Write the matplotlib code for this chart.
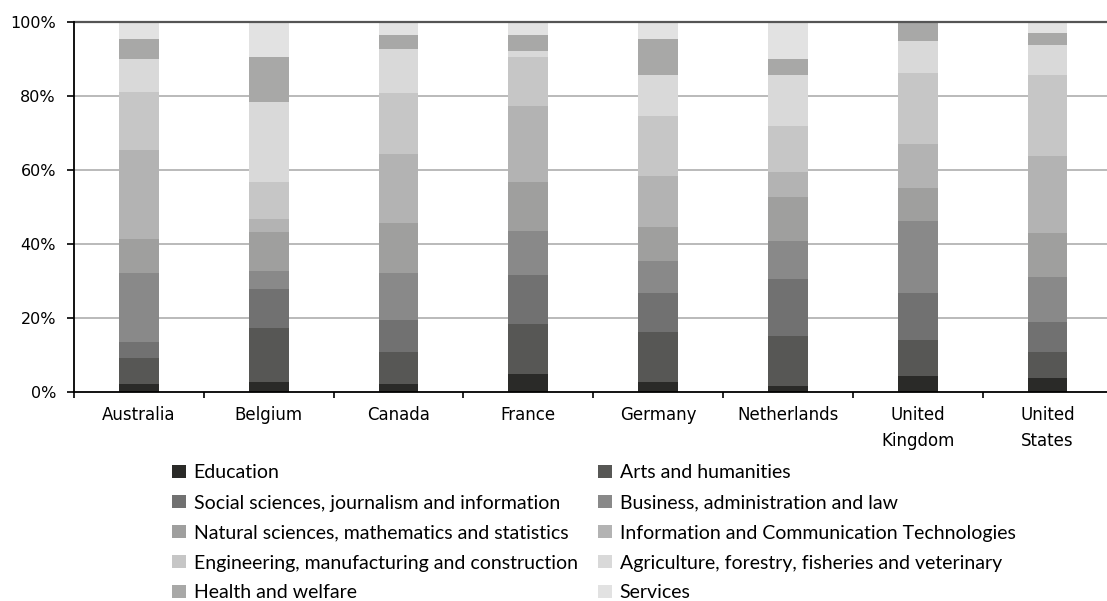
import matplotlib
matplotlib.use("Agg")
import matplotlib.pyplot as plt
import numpy as np
from matplotlib.patches import Patch

countries = ["Australia", "Belgium", "Canada", "France", "Germany",
             "Netherlands", "United\nKingdom", "United\nStates"]
fields = ["Education", "Arts and humanities",
          "Social sciences, journalism and information",
          "Business, administration and law",
          "Natural sciences, mathematics and statistics",
          "Information and Communication Technologies",
          "Engineering, manufacturing and construction",
          "Agriculture, forestry, fisheries and veterinary",
          "Health and welfare", "Services"]
colors = ["#2a2a28", "#575755", "#717171", "#898989", "#9f9f9e",
          "#b3b3b3", "#c6c6c6", "#d9d9d9", "#a8a8a7", "#e2e2e2"]

# shares (%) per field, one value per country (order as in `countries`)
education   = [2.1, 2.7, 2.1, 4.8, 2.6, 1.5, 4.2, 3.7]
arts        = [7.1, 14.6, 8.6, 13.5, 13.6, 13.6, 9.8, 7.0]
social      = [4.2, 10.6, 8.7, 13.3, 10.5, 15.4, 12.7, 8.2]
business    = [18.7, 4.9, 12.7, 11.9, 8.7, 10.3, 19.5, 12.1]
natural     = [9.2, 10.3, 13.6, 13.3, 9.2, 11.9, 8.9, 12.0]
ict         = [24.1, 3.7, 18.7, 20.5, 13.8, 6.8, 12.0, 20.8]
engineering = [15.7, 10.0, 16.5, 13.3, 16.2, 12.4, 19.2, 21.9]
agriculture = [9.0, 21.7, 11.9, 1.6, 11.1, 13.8, 8.6, 8.2]
health      = [5.4, 12.2, 3.8, 4.4, 9.8, 4.4, 5.1, 3.2]
services    = [4.5, 9.3, 3.4, 3.4, 4.5, 9.9, 0.0, 2.9]
series = [education, arts, social, business, natural, ict,
          engineering, agriculture, health, services]

W, H = 1107, 601
DPI = 100
fig = plt.figure(figsize=(W / DPI, H / DPI), dpi=DPI)
ax = fig.add_axes([74 / W, 1 - 391.7 / H, 8 * 129.8 / W, (391.7 - 22.3) / H])

FONT = ["Lato", "DejaVu Sans"]
plt.rcParams["font.family"] = FONT
x = np.arange(len(countries))
bottom = np.zeros(len(countries))
handles = []
for vals, col, name in zip(series, colors, fields):
    v = np.array(vals)
    ax.bar(x, v, width=0.308, bottom=bottom, color=col, zorder=3,
           linewidth=0)
    bottom += v
    handles.append(Patch(facecolor=col, edgecolor="none", label=name))

ax.set_xlim(-0.5, len(countries) - 0.5)
ax.set_ylim(0, 100)
ax.set_yticks([0, 20, 40, 60, 80, 100])
ax.set_yticklabels([f"{t}%" for t in [0, 20, 40, 60, 80, 100]])
for yv in [20, 40, 60, 80]:
    ax.axhline(yv, color="#b4b4b4", lw=1.3, zorder=1)
ax.axhline(100, color="#555555", lw=1.6, zorder=4, clip_on=False)

ax.set_xticks(x)
ax.set_xticklabels(countries)
ax.set_xticks(np.arange(-0.5, len(countries)), minor=True)
ax.tick_params(axis="x", which="major", length=0, pad=11, labelsize=14)
ax.tick_params(axis="x", which="minor", length=4.5, width=1.2, color="black")
ax.tick_params(axis="y", length=5, width=1.2, pad=8, color="black",
               labelsize=13.3)

for s in ["top", "right"]:
    ax.spines[s].set_visible(False)
for s in ["left", "bottom"]:
    ax.spines[s].set_linewidth(1.3)
    ax.spines[s].set_color("black")
    ax.spines[s].set_zorder(5)

fig.canvas.draw()
R = fig.canvas.get_renderer()

# --- fit tick label sizes to the reference text widths ---
xl = ax.get_xticklabels()
xfs = 14 * 74.0 / xl[0].get_window_extent(R).width
yl = ax.get_yticklabels()
yfs = 13.3 * 46.0 / yl[-1].get_window_extent(R).width
ax.tick_params(axis="y", labelsize=yfs)
ax.tick_params(axis="x", which="major", labelsize=xfs)
ls = 1.2
for t in ax.get_xticklabels():
    t.set_linespacing(ls)
for _ in range(3):
    fig.canvas.draw()
    xl = ax.get_xticklabels()
    h1 = xl[0].get_window_extent(R).height
    h2 = xl[6].get_window_extent(R).height
    ls = ls * 25.5 / (h2 - h1)
    for t in ax.get_xticklabels():
        t.set_linespacing(ls)
fig.canvas.draw()
top = ax.get_xticklabels()[0].get_window_extent(R).y1
pad_px = top - (H - 406.5)
ax.tick_params(axis="x", which="major", pad=11 + pad_px * 72 / DPI)

# --- legend: two columns (row-wise order as in the reference) ---
col1 = handles[0::2]
col2 = handles[1::2]
legs = []


def make_legends(fs, lsp, ytop):
    for lg in legs:
        lg.remove()
    legs.clear()
    fs_px = fs * DPI / 72
    for hs, xpos in [(col1, 172), (col2, 598)]:
        lg = fig.legend(handles=hs, loc="upper left",
                        bbox_to_anchor=(xpos / W, 1 - ytop / H),
                        frameon=False, ncol=1, borderpad=0, borderaxespad=0,
                        handlelength=13.5 / fs_px, handleheight=12 / fs_px,
                        handletextpad=8 / fs_px, labelspacing=lsp,
                        prop={"family": FONT, "size": fs})
        legs.append(lg)


fs, lsp, ytop = 14.0, 0.5, 462
make_legends(fs, lsp, ytop)
fig.canvas.draw()
w_ict = legs[1].get_texts()[2].get_window_extent(R).width
w_soc = legs[0].get_texts()[1].get_window_extent(R).width
fs = fs * 0.5 * (393.0 / w_ict + 372.0 / w_soc)
FIRST_ROW, PITCH = 473.0, 30.0
for _ in range(3):
    make_legends(fs, lsp, ytop)
    fig.canvas.draw()
    bbs = [t.get_window_extent(R) for t in legs[0].get_texts()]
    cy = [(b.y0 + b.y1) / 2 for b in bbs]
    pitch = (cy[0] - cy[-1]) / (len(cy) - 1)
    lsp += (PITCH - pitch) / (fs * DPI / 72)
    ytop -= (H - cy[0]) - FIRST_ROW
make_legends(fs, lsp, ytop)

fig.savefig("out.png", dpi=DPI)
